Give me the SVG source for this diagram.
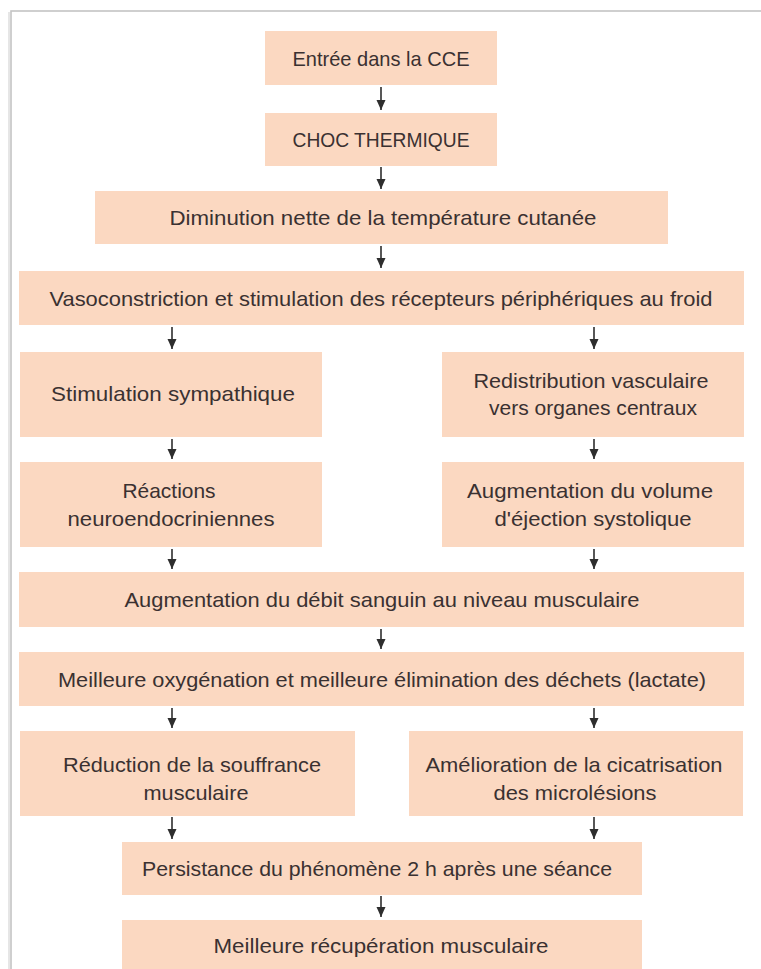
<svg xmlns="http://www.w3.org/2000/svg" width="761" height="969" viewBox="0 0 761 969">
<style>
.box{fill:#fbd8c1}
.t{font-family:"Liberation Sans",Arial,sans-serif;font-size:21px;fill:#3a3131;text-anchor:middle}
.c{stroke:#2e2e2e;stroke-width:1.6;fill:none;marker-end:url(#ah)}
</style>
<defs>
<marker id="ah" markerUnits="userSpaceOnUse" markerWidth="11" markerHeight="11" refX="10" refY="5" orient="auto">
<path d="M0,0.5 L10,5 L0,9.5 z" fill="#2e2e2e"/>
</marker>
</defs>
<rect x="0" y="0" width="761" height="969" fill="#ffffff"/>
<rect x="11" y="11" width="780" height="990" fill="#ffffff" stroke="#c4c4c4" stroke-width="1.6"/>
<line x1="9" y1="12" x2="9" y2="969" stroke="#e6e6e6" stroke-width="2"/>
<g id="n1"><rect class="box" x="265" y="31" width="232" height="54"/><text class="t" x="381" y="66" textLength="177" lengthAdjust="spacingAndGlyphs">Entrée dans la CCE</text></g>
<g id="n2"><rect class="box" x="265" y="113" width="232" height="53"/><text class="t" x="381" y="147" textLength="177" lengthAdjust="spacingAndGlyphs">CHOC THERMIQUE</text></g>
<g id="n3"><rect class="box" x="95" y="191" width="573" height="53"/><text class="t" x="383" y="225" textLength="427" lengthAdjust="spacingAndGlyphs">Diminution nette de la température cutanée</text></g>
<g id="n4"><rect class="box" x="19" y="271" width="725" height="54"/><text class="t" x="381" y="306" textLength="663" lengthAdjust="spacingAndGlyphs">Vasoconstriction et stimulation des récepteurs périphériques au froid</text></g>
<g id="n5"><rect class="box" x="20" y="352" width="302" height="85"/><text class="t" x="173" y="401" textLength="244" lengthAdjust="spacingAndGlyphs">Stimulation sympathique</text></g>
<g id="n6"><rect class="box" x="442" y="352" width="302" height="85"/><text class="t" x="591" y="388" textLength="235" lengthAdjust="spacingAndGlyphs">Redistribution vasculaire</text><text class="t" x="593" y="415" textLength="208" lengthAdjust="spacingAndGlyphs">vers organes centraux</text></g>
<g id="n7"><rect class="box" x="20" y="462" width="302" height="85"/><text class="t" x="169" y="498" textLength="93" lengthAdjust="spacingAndGlyphs">Réactions</text><text class="t" x="171" y="526" textLength="207" lengthAdjust="spacingAndGlyphs">neuroendocriniennes</text></g>
<g id="n8"><rect class="box" x="442" y="462" width="302" height="85"/><text class="t" x="590" y="498" textLength="246" lengthAdjust="spacingAndGlyphs">Augmentation du volume</text><text class="t" x="593" y="526" textLength="197" lengthAdjust="spacingAndGlyphs">d'éjection systolique</text></g>
<g id="n9"><rect class="box" x="19" y="572" width="725" height="55"/><text class="t" x="382" y="607" textLength="515" lengthAdjust="spacingAndGlyphs">Augmentation du débit sanguin au niveau musculaire</text></g>
<g id="n10"><rect class="box" x="19" y="652" width="725" height="54"/><text class="t" x="382" y="687" textLength="648" lengthAdjust="spacingAndGlyphs">Meilleure oxygénation et meilleure élimination des déchets (lactate)</text></g>
<g id="n11"><rect class="box" x="20" y="731" width="335" height="85"/><text class="t" x="192" y="772" textLength="258" lengthAdjust="spacingAndGlyphs">Réduction de la souffrance</text><text class="t" x="196" y="800" textLength="105" lengthAdjust="spacingAndGlyphs">musculaire</text></g>
<g id="n12"><rect class="box" x="409" y="731" width="334" height="85"/><text class="t" x="574" y="772" textLength="297" lengthAdjust="spacingAndGlyphs">Amélioration de la cicatrisation</text><text class="t" x="575" y="800" textLength="163" lengthAdjust="spacingAndGlyphs">des microlésions</text></g>
<g id="n13"><rect class="box" x="122" y="842" width="520" height="53"/><text class="t" x="377" y="876" textLength="470" lengthAdjust="spacingAndGlyphs">Persistance du phénomène 2 h après une séance</text></g>
<g id="n14"><rect class="box" x="122" y="920" width="520" height="60"/><text class="t" x="381" y="953" textLength="335" lengthAdjust="spacingAndGlyphs">Meilleure récupération musculaire</text></g>
<g id="connectors">
<line class="c" x1="381" y1="87" x2="381" y2="110"/>
<line class="c" x1="381" y1="167" x2="381" y2="189"/>
<line class="c" x1="381" y1="246" x2="381" y2="268"/>
<line class="c" x1="172" y1="327" x2="172" y2="349"/>
<line class="c" x1="594" y1="327" x2="594" y2="349"/>
<line class="c" x1="172" y1="439" x2="172" y2="459"/>
<line class="c" x1="594" y1="439" x2="594" y2="459"/>
<line class="c" x1="172" y1="549" x2="172" y2="569"/>
<line class="c" x1="594" y1="549" x2="594" y2="569"/>
<line class="c" x1="381" y1="629" x2="381" y2="649"/>
<line class="c" x1="172" y1="708" x2="172" y2="728"/>
<line class="c" x1="594" y1="708" x2="594" y2="728"/>
<line class="c" x1="172" y1="817" x2="172" y2="839"/>
<line class="c" x1="594" y1="817" x2="594" y2="839"/>
<line class="c" x1="381" y1="896" x2="381" y2="917"/>
</g>
</svg>
